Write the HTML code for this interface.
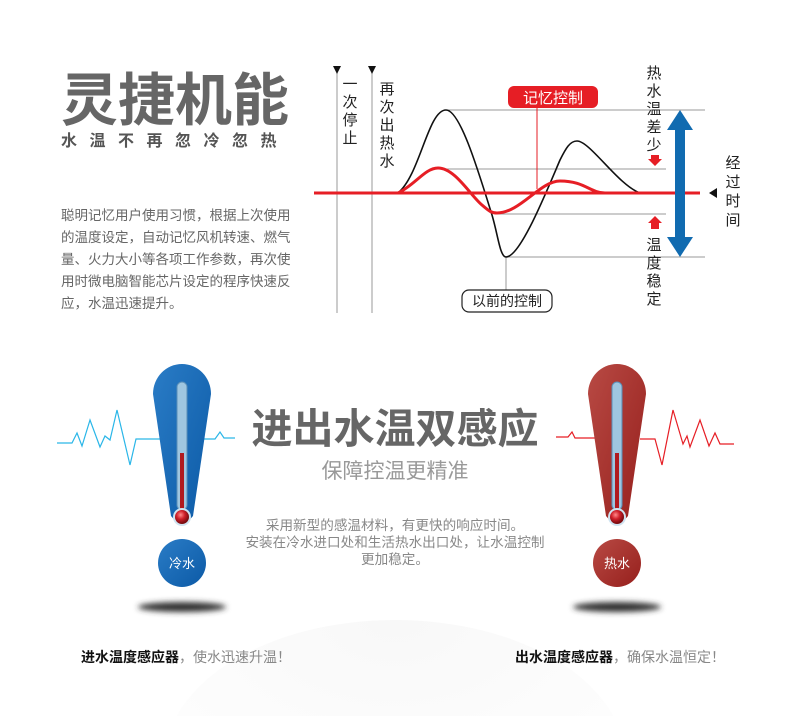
<!DOCTYPE html>
<html><head><meta charset="utf-8"><style>
html,body{margin:0;padding:0;background:#fff;width:790px;height:716px;overflow:hidden}
svg{display:block}
text{font-family:"Liberation Sans","Noto Sans CJK SC",sans-serif}
</style></head><body>
<svg width="790" height="716" viewBox="0 0 790 716" xmlns="http://www.w3.org/2000/svg">
<defs>
<radialGradient id="bg" cx="0.5" cy="0" r="0.8"><stop offset="0" stop-color="#f8f8f8"/><stop offset="1" stop-color="#fff"/></radialGradient>
<linearGradient id="blu" x1="0" y1="0" x2="1" y2="1"><stop offset="0" stop-color="#2a7cc6"/><stop offset="1" stop-color="#0c5aa6"/></linearGradient>
<linearGradient id="redg" x1="0" y1="0" x2="1" y2="1"><stop offset="0" stop-color="#b84a44"/><stop offset="1" stop-color="#961f1c"/></linearGradient>
<filter id="blur" x="-50%" y="-200%" width="200%" height="500%"><feGaussianBlur stdDeviation="3"/></filter>
<radialGradient id="bulb" cx="0.4" cy="0.35" r="0.6"><stop offset="0" stop-color="#ff8a8a"/><stop offset="0.5" stop-color="#d0202a"/><stop offset="1" stop-color="#7a0c10"/></radialGradient>
</defs>
<ellipse cx="395" cy="760" rx="230" ry="140" fill="url(#bg)"/>

<text x="61" y="120" font-size="57" font-weight="bold" fill="#666">灵捷机能</text>
<text x="61" y="146" font-size="16" font-weight="bold" fill="#555" letter-spacing="12.5">水温不再忽冷忽热</text>
<g font-size="13.5" fill="#666">
<text x="61" y="220">聪明记忆用户使用习惯，根据上次使用</text>
<text x="61" y="242">的温度设定，自动记忆风机转速、燃气</text>
<text x="61" y="264">量、火力大小等各项工作参数，再次使</text>
<text x="61" y="286">用时微电脑智能芯片设定的程序快速反</text>
<text x="61" y="308">应，水温迅速提升。</text>
</g>

<g stroke="#999" stroke-width="1" fill="none">
<line x1="337" y1="72" x2="337" y2="313"/>
<line x1="372" y1="72" x2="372" y2="313"/>
<line x1="446" y1="110" x2="705" y2="110"/>
<line x1="446" y1="169" x2="666" y2="169"/>
<line x1="497" y1="214" x2="666" y2="214"/>
<line x1="506" y1="257" x2="705" y2="257"/>
<line x1="506" y1="257" x2="506" y2="291"/>
</g>
<polygon points="333,66 341,66 337,74" fill="#111"/>
<polygon points="368,66 376,66 372,74" fill="#111"/>
<line x1="398" y1="193" x2="640" y2="193" stroke="#666" stroke-width="2"/>
<path d="M398,193 C420,175 428,110 446,110 C460,110 478,170 492,215 C498,235 500,257 506,257 C520,257 545,195 560,160 C566,148 570,141 577,141 C590,141 618,185 640,193" fill="none" stroke="#111" stroke-width="1.6"/>
<line x1="314" y1="193" x2="700" y2="193" stroke="#e61e25" stroke-width="3"/>
<path d="M398,193 C415,185 425,168 438,168 C455,168 470,195 482,205 C490,212 492,213 497,213 C520,213 540,181 560,181 C585,181 590,193 605,193" fill="none" stroke="#e61e25" stroke-width="3"/>
<line x1="537" y1="108" x2="537" y2="189" stroke="#e61e25" stroke-width="1"/>
<rect x="508" y="86" width="90" height="22" rx="6" fill="#e61e25"/>
<text x="553" y="103" font-size="15" fill="#fff" text-anchor="middle">记忆控制</text>
<rect x="462" y="290" width="90" height="22" rx="7" fill="#fff" stroke="#222" stroke-width="1.2"/>
<text x="507" y="306" font-size="14" fill="#222" text-anchor="middle">以前的控制</text>
<rect x="675" y="128" width="10" height="112" fill="#116bb0"/>
<polygon points="680,110 667,130 693,130" fill="#116bb0"/>
<polygon points="680,257 667,237 693,237" fill="#116bb0"/>
<polygon points="709,193 717,188 717,198" fill="#111"/>
<polygon points="651,155 659,155 659,159 662,159 655,166 648,159 651,159" fill="#e61e25"/>
<polygon points="651,229 659,229 659,223 662,223 655,216 648,223 651,223" fill="#e61e25"/>
<g font-size="15" fill="#222" text-anchor="middle">
<text x="350" y="89">一</text><text x="350" y="107">次</text><text x="350" y="125">停</text><text x="350" y="143">止</text>
<text x="387" y="94">再</text><text x="387" y="112">次</text><text x="387" y="130">出</text><text x="387" y="148">热</text><text x="387" y="166">水</text>
<text x="654" y="78">热</text><text x="654" y="96">水</text><text x="654" y="114">温</text><text x="654" y="132">差</text><text x="654" y="150">少</text>
<text x="654" y="250">温</text><text x="654" y="268">度</text><text x="654" y="286">稳</text><text x="654" y="304">定</text>
<text x="733" y="168">经</text><text x="733" y="187">过</text><text x="733" y="206">时</text><text x="733" y="225">间</text>
</g>

<polyline points="57,443 72,443 77,433 82,446 90,420 100,447 105,436 110,440 117,410 130,465 136,439 160,439" fill="none" stroke="#2ab6e8" stroke-width="1.2"/>
<polyline points="200,439 215,439 220,432 224,438 235,438" fill="none" stroke="#2ab6e8" stroke-width="1.2"/>
<polyline points="556,437 568,437 572,432 575,438 595,438" fill="none" stroke="#e61e25" stroke-width="1.2"/>
<polyline points="640,439 655,439 662,465 673,410 683,444 687,436 690,447 700,420 709,446 715,433 720,444 734,444" fill="none" stroke="#e61e25" stroke-width="1.2"/>

<ellipse cx="182" cy="607" rx="44" ry="5" fill="#333" filter="url(#blur)"/>
<path d="M153,394 A29,30 0 0 1 211,394 L193,516 Q182,530 171,516 Z" fill="url(#blu)"/>
<rect x="177" y="382" width="10" height="128" rx="5" fill="#9fc6e0" stroke="#5a8fb8"/>
<rect x="180" y="453" width="4" height="60" fill="#b01a1f"/>
<circle cx="182" cy="517" r="9" fill="#cfe3f0"/>
<circle cx="182" cy="517" r="7" fill="url(#bulb)"/>
<circle cx="182" cy="563" r="24" fill="url(#blu)"/>
<text x="182" y="568" font-size="13" fill="#fff" text-anchor="middle">冷水</text>

<ellipse cx="617" cy="607" rx="44" ry="5" fill="#333" filter="url(#blur)"/>
<path d="M588,394 A29,30 0 0 1 646,394 L628,516 Q617,530 606,516 Z" fill="url(#redg)"/>
<rect x="612" y="382" width="10" height="128" rx="5" fill="#9fc6e0" stroke="#5a8fb8"/>
<rect x="615" y="453" width="4" height="60" fill="#b01a1f"/>
<circle cx="617" cy="517" r="9" fill="#cfe3f0"/>
<circle cx="617" cy="517" r="7" fill="url(#bulb)"/>
<circle cx="617" cy="563" r="24" fill="url(#redg)"/>
<text x="617" y="568" font-size="13" fill="#fff" text-anchor="middle">热水</text>

<text x="395" y="443" font-size="41" font-weight="bold" fill="#666" text-anchor="middle">进出水温双感应</text>
<text x="395" y="478" font-size="21" fill="#999" text-anchor="middle">保障控温更精准</text>
<g font-size="13.6" fill="#888" text-anchor="middle">
<text x="395" y="530">采用新型的感温材料，有更快的响应时间。</text>
<text x="395" y="547">安装在冷水进口处和生活热水出口处，让水温控制</text>
<text x="395" y="564">更加稳定。</text>
</g>
<text x="81" y="662" font-size="14" fill="#888"><tspan font-weight="bold" fill="#111">进水温度感应器</tspan>，使水迅速升温！</text>
<text x="515" y="662" font-size="14" fill="#888"><tspan font-weight="bold" fill="#111">出水温度感应器</tspan>，确保水温恒定！</text>
</svg>
</body></html>
